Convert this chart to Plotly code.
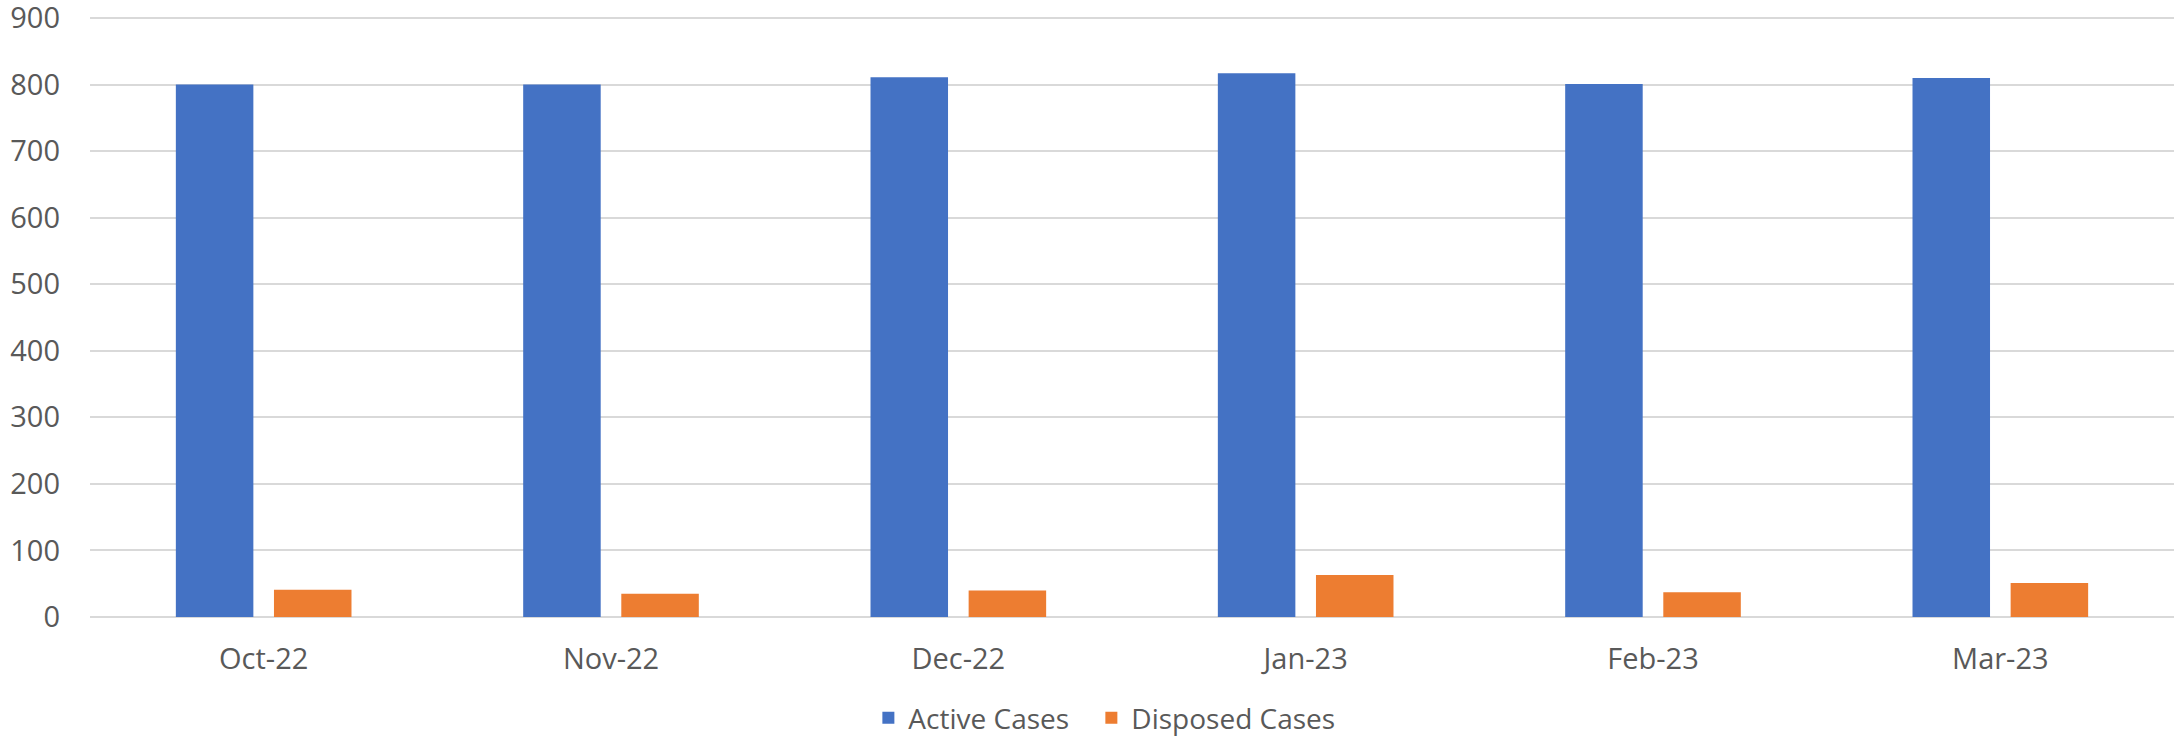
import plotly.graph_objects as go

months = ["Oct-22", "Nov-22", "Dec-22", "Jan-23", "Feb-23", "Mar-23"]
active_cases = [800, 800, 811, 817, 801, 810]
disposed_cases = [41, 35, 40, 63, 37, 51]
y_ticks = [0, 100, 200, 300, 400, 500, 600, 700, 800, 900]

FONT = "Open Sans"
TXT = "#595959"
GRID = "#D9D9D9"

fig = go.Figure()
fig.add_trace(go.Bar(x=months, y=active_cases, name="Active Cases", legend="legend",
                     marker=dict(color="#4472C4", line=dict(width=0))))
fig.add_trace(go.Bar(x=months, y=disposed_cases, name="Disposed Cases", legend="legend2",
                     marker=dict(color="#ED7D31", line=dict(width=0))))

leg_common = dict(orientation="h", xanchor="left", y=-0.168, yanchor="middle",
                  font=dict(family=FONT, size=28, color=TXT), bgcolor="rgba(0,0,0,0)")

fig.update_layout(
    width=2174, height=737,
    margin=dict(l=90, r=0, t=16, b=120, autoexpand=False),
    paper_bgcolor="white", plot_bgcolor="white",
    barmode="group", bargap=0.435, bargroupgap=0.21,
    font=dict(family=FONT, size=29, color=TXT),
    showlegend=True,
    legend=dict(x=0.3735, **leg_common),
    legend2=dict(x=0.4805, **leg_common),
    xaxis=dict(showgrid=False, showline=False, zeroline=False, ticks="", automargin=False,
               tickfont=dict(family=FONT, size=29, color=TXT), ticklabelstandoff=22),
    yaxis=dict(range=[0, 903], tickvals=y_ticks, showgrid=True, gridcolor=GRID, gridwidth=1.5,
               zeroline=True, zerolinecolor=GRID, zerolinewidth=1.5, showline=False, ticks="",
               automargin=False, ticklabeloverflow="allow",
               tickfont=dict(family=FONT, size=29, color=TXT), ticklabelstandoff=29),
)

fig.write_html("out.html", config={"displayModeBar": False},
               post_script="document.body.style.margin='0';document.body.style.overflow='hidden';")
